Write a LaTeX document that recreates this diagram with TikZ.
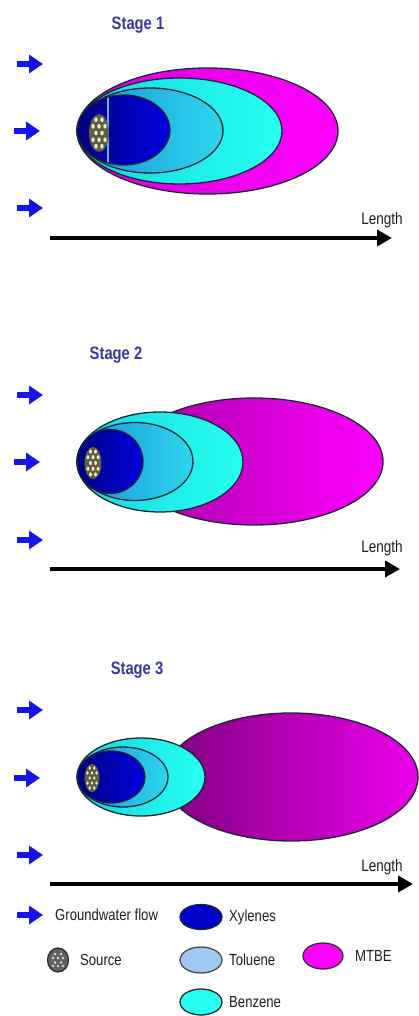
\documentclass[tikz,border=0pt]{standalone}
\usepackage{fontspec}
\setmainfont{Liberation Sans}
\newfontfamily\nar[FakeStretch=0.82]{Liberation Sans}
\usetikzlibrary{arrows.meta,shapes.geometric,calc}
\definecolor{flowblue}{RGB}{20,20,235}
\definecolor{titlecol}{RGB}{55,55,165}
\definecolor{edgecol}{RGB}{25,40,55}
\definecolor{xylL}{RGB}{0,0,125}
\definecolor{xylR}{RGB}{0,0,225}
\definecolor{tolL}{RGB}{30,145,220}
\definecolor{tolR}{RGB}{45,215,235}
\definecolor{benL}{RGB}{20,215,225}
\definecolor{benR}{RGB}{40,255,240}
\definecolor{mtbR}{RGB}{255,0,255}
\definecolor{legtol}{RGB}{160,200,240}
\definecolor{txtcol}{RGB}{30,30,30}
\definecolor{srcbg}{RGB}{95,95,70}
\definecolor{srcdot}{RGB}{235,235,200}
\tikzset{
  plume/.style={ellipse, draw=edgecol, line width=1.3pt, inner sep=0pt},
  xyl/.style={plume, left color=xylL, right color=xylR},
  tol/.style={plume, left color=tolL, right color=tolR},
  ben/.style={plume, left color=benL, right color=benR},
  flow/.style={draw=flowblue, line width=6pt, -{Triangle[length=14pt,width=18pt]}},
  axisarrow/.style={draw=black, line width=4pt, -{Triangle[length=15pt,width=16pt]}},
  stagetitle/.style={text=titlecol, font=\nar\bfseries\fontsize{18}{20}\selectfont, inner sep=0pt},
  lentext/.style={text=txtcol, font=\nar\fontsize{16.5}{18}\selectfont, inner sep=0pt},
  legtext/.style={text=txtcol, font=\nar\fontsize{16}{18}\selectfont, inner sep=0pt, anchor=west},
  srcdots/.pic={
    \fill[srcbg] (0,0) ellipse (1 and 1.35);
    \foreach \px/\py in {-0.3/-0.95,0.3/-0.95,-0.6/-0.48,0/-0.48,0.6/-0.48,-0.3/0,0.3/0,-0.6/0.48,0/0.48,0.6/0.48,-0.3/0.95,0.3/0.95}
      \fill[srcdot] (\px,\py) circle (0.17);
  }
}
\begin{document}
\begin{tikzpicture}[x=1pt,y=-1pt]
\useasboundingbox (0,0) rectangle (418,1016);
\fill[white] (0,0) rectangle (418,1016);

% ---------------- Stage 1 ----------------
\node[stagetitle] (t1) at (138,25) {Stage 1};
\foreach \i/\y/\xs in {a/64/17,b/131/14,c/208/17}{
  \coordinate (f1\i s) at (\xs,\y);
  \coordinate (f1\i e) at (\xs+26,\y);
  \draw[flow] (f1\i s) -- (f1\i e);
}
\node[plume, left color=mtbR!85!black, right color=mtbR, minimum width=261pt, minimum height=126pt] (m1) at (207.5,131) {};
\node[ben, minimum width=205pt, minimum height=106pt] (b1) at (179.5,131) {};
\node[tol, minimum width=146pt, minimum height=85pt] (to1) at (150,130.5) {};
\node[xyl, minimum width=93pt, minimum height=70pt] (x1) at (123.5,130) {};
\begin{scope}
  \clip (123.5,130) ellipse (46 and 34.3);
  \draw[color=tolL!70!white, line width=1.3pt] (108,90) -- (108,170);
\end{scope}
\pic[xscale=10,yscale=14] (s1) at (99,133) {srcdots};
\coordinate (ax1s) at (50,238);
\coordinate (ax1e) at (392,238);
\draw[axisarrow] (ax1s) -- (ax1e);
\node[lentext] (l1) at (382,220) {Length};

% ---------------- Stage 2 ----------------
\node[stagetitle] (t2) at (116,355) {Stage 2};
\foreach \i/\y/\xs in {a/395/17,b/462/14,c/540/17}{
  \coordinate (f2\i s) at (\xs,\y);
  \coordinate (f2\i e) at (\xs+26,\y);
  \draw[flow] (f2\i s) -- (f2\i e);
}
\node[plume, left color=mtbR!65!black, right color=mtbR, minimum width=258pt, minimum height=127pt] (m2) at (254,461.5) {};
\node[ben, minimum width=166pt, minimum height=100pt] (b2) at (160,462) {};
\node[tol, minimum width=116pt, minimum height=78pt] (to2) at (135,461.5) {};
\node[xyl, minimum width=66pt, minimum height=64pt] (x2) at (110,461.5) {};
\pic[xscale=8.5,yscale=12] (s2) at (93,463) {srcdots};
\coordinate (ax2s) at (50,569);
\coordinate (ax2e) at (400,569);
\draw[axisarrow] (ax2s) -- (ax2e);
\node[lentext] (l2) at (382,548) {Length};

% ---------------- Stage 3 ----------------
\node[stagetitle] (t3) at (137,670) {Stage 3};
\foreach \i/\y/\xs in {a/710/17,b/778/14,c/855/17}{
  \coordinate (f3\i s) at (\xs,\y);
  \coordinate (f3\i e) at (\xs+26,\y);
  \draw[flow] (f3\i s) -- (f3\i e);
}
\node[plume, left color=mtbR!50!black, right color=mtbR!92!black, minimum width=254pt, minimum height=128pt] (m3) at (291,777) {};
\node[ben, minimum width=128pt, minimum height=78pt] (b3) at (141,777) {};
\node[tol, minimum width=90pt, minimum height=60pt] (to3) at (123,777) {};
\node[xyl, minimum width=68pt, minimum height=52pt] (x3) at (111,777) {};
\pic[xscale=7.5,yscale=10.5] (s3) at (92,778) {srcdots};
\coordinate (ax3s) at (50,884);
\coordinate (ax3e) at (413,884);
\draw[axisarrow] (ax3s) -- (ax3e);
\node[lentext] (l3) at (382,867) {Length};

% ---------------- Legend ----------------
\coordinate (fls) at (17,915);
\coordinate (fle) at (43,915);
\draw[flow] (fls) -- (fle);
\node[legtext] (lgflow) at (55,915) {Groundwater flow};

\node[ellipse, draw=black!85, line width=1.2pt, fill=black!62, minimum width=21pt, minimum height=24pt, inner sep=0pt] (lgsrc) at (58,960) {};
\foreach \px/\py in {-3/-6,3/-6,-5/-2,0/-2,5/-2,-3/2.5,3/2.5,-5/6,0/6,5/6}
  \fill[white!85!black] ($(lgsrc.center)+(\px,\py)$) circle (1.3);
\node[legtext] (lgsrct) at (80,960) {Source};

\node[plume, fill=xylR!90!black, minimum width=42pt, minimum height=25pt] (lgx) at (201,917) {};
\node[legtext] (lgxt) at (229,917) {Xylenes};
\node[plume, draw=black!70, fill=legtol, minimum width=42pt, minimum height=26pt] (lgt) at (201,960) {};
\node[legtext] (lgtt) at (229,960) {Toluene};
\node[plume, fill=benR, minimum width=42pt, minimum height=26pt] (lgb) at (201,1002) {};
\node[legtext] (lgbt) at (229,1002) {Benzene};
\node[plume, draw=black!80, fill=mtbR, minimum width=40pt, minimum height=26pt] (lgm) at (323,956) {};
\node[legtext] (lgmt) at (355,956) {MTBE};
\end{tikzpicture}
\end{document}
